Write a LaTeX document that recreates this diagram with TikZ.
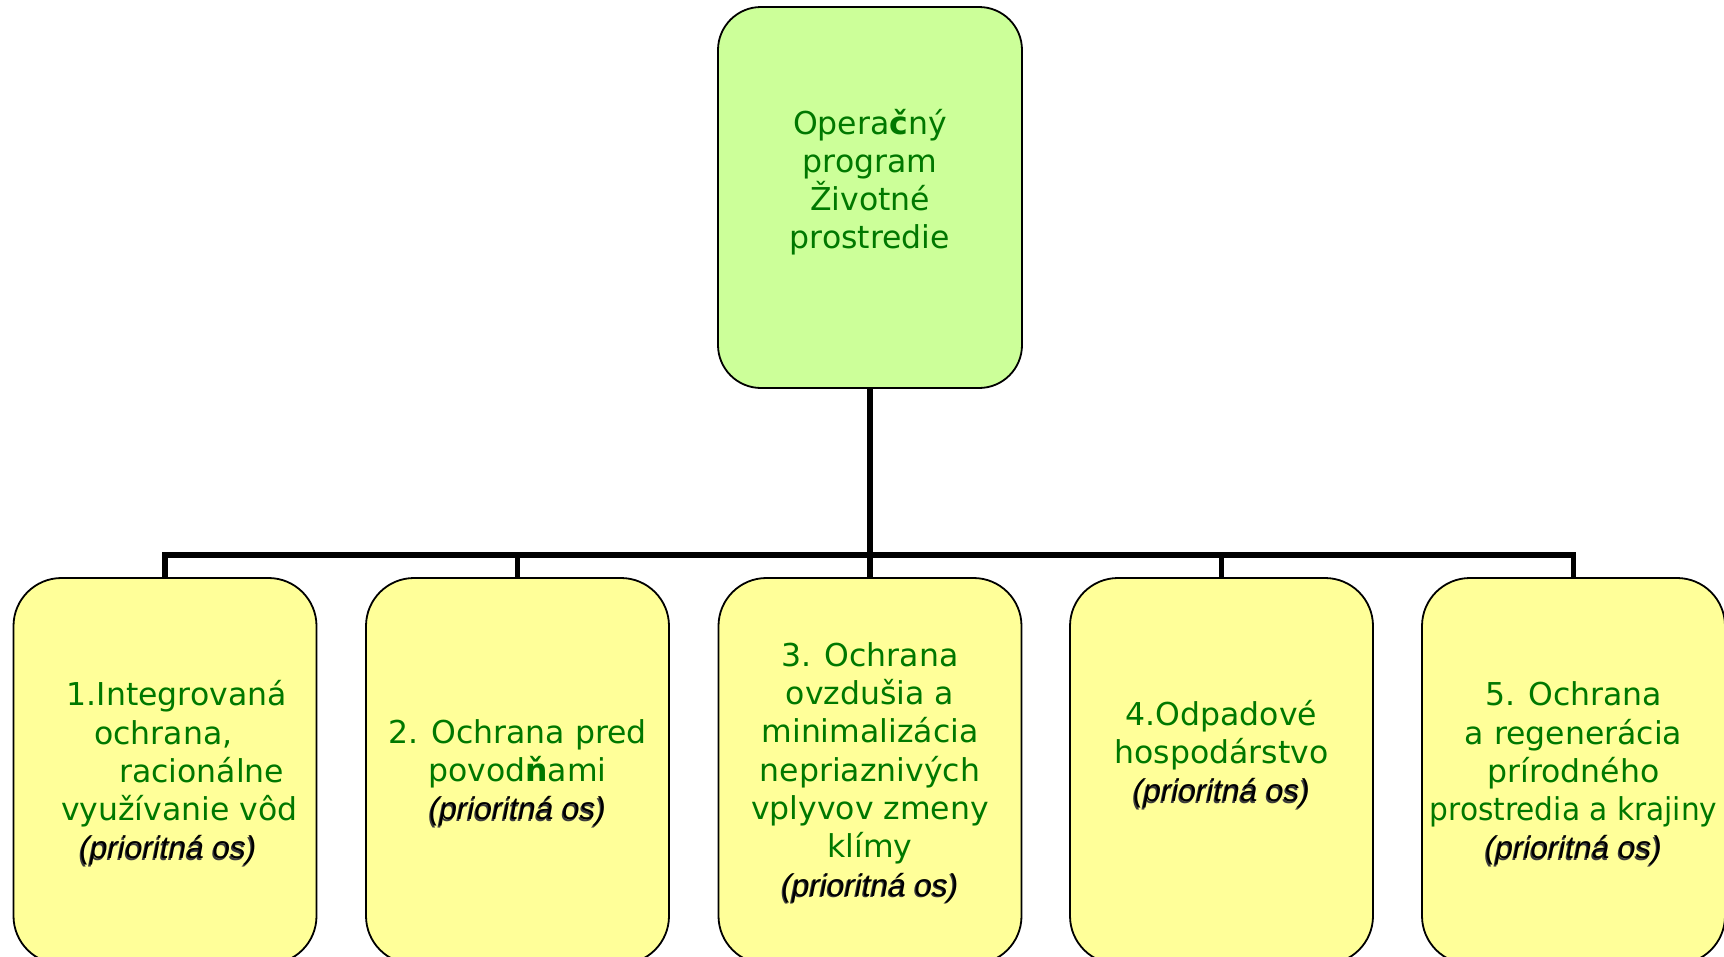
\documentclass[tikz,border=0pt]{standalone}
\usepackage{fontspec}
\usepackage{graphicx}
\setmainfont{DejaVu Sans}
\newfontfamily\libsans{Liberation Sans}
\definecolor{txtgreen}{RGB}{0,120,0}
\definecolor{topfill}{RGB}{204,255,153}
\definecolor{boxfill}{RGB}{255,255,153}
\definecolor{shadowgray}{RGB}{60,60,60}
\tikzset{
  topbox/.style={draw=black, line width=1.8pt, fill=topfill, rounded corners=43pt,
    minimum width=304pt, minimum height=381pt, inner sep=0pt},
  axisbox/.style={draw=black, line width=1.8pt, fill=boxfill, rounded corners=48pt,
    minimum width=303pt, minimum height=386pt, inner sep=0pt},
  boxtext/.style={text=txtgreen, align=center, inner sep=0pt, anchor=north,
    font=\fontsize{31.5}{38.3}\selectfont},
  conn/.style={line width=5.3pt, line join=miter}
}
\newcommand\priotxt{\libsans\itshape(prioritná os)}
\newcommand\prio{{\color{shadowgray}\rlap{\hspace*{-1.2pt}\raisebox{-1.2pt}{\priotxt}}}{\color{black}\priotxt}}
\newcommand\fst{\rule{0pt}{30pt}}
\begin{document}
\begin{tikzpicture}[x=1pt,y=-1pt]
\useasboundingbox (0,0) rectangle (1724,956);
\clip (0,0) rectangle (1724,956);
\coordinate (bus) at (870,555);
% boxes
\node[topbox] (top) at (870,197.5) {};
\node[axisbox] (b1) at (165,771) {};
\node[axisbox] (b2) at (517.5,771) {};
\node[axisbox] (b3) at (870,771) {};
\node[axisbox] (b4) at (1221.5,771) {};
\node[axisbox] (b5) at (1573.5,771) {};
% connectors
\draw[conn] (top.south) -- (top.south |- bus);
\foreach \b in {b1,b2,b3,b4,b5}
  \draw[conn] (top.south |- bus) -| (\b.north);
% texts
\node[boxtext, font=\fontsize{31.5}{38}\selectfont] (ttop) at (870,104)
  {\fst Opera\textbf{č}ný\\program\\Životné\\prostredie};
\node[boxtext] (t1) at (165,675.5)
  {\fst\hspace*{23.4pt}1.Integrovaná\\\hspace*{-3.4pt}ochrana,\\\hspace*{73.6pt}racionálne\\\hspace*{28.6pt}využívanie vôd\\\hspace*{6pt}\prio};
\node[boxtext] (t2) at (517.5,713)
  {\fst 2. Ochrana pred\\povod\textbf{ň}ami\\\prio};
\node[boxtext] (t3) at (870,636)
  {\fst 3. Ochrana\\ovzdušia a\\minimalizácia\\nepriaznivých\\vplyvov zmeny\\klímy\\\prio};
\node[boxtext] (t4) at (1221.5,695)
  {\fst 4.Odpadové\\hospodárstvo\\\prio};
\node[boxtext] (t5) at (1573.5,675.5)
  {\fst 5. Ochrana\\a regenerácia\\prírodného\\\scalebox{0.94}[1]{prostredia a krajiny}\\\prio};
\end{tikzpicture}
\end{document}
